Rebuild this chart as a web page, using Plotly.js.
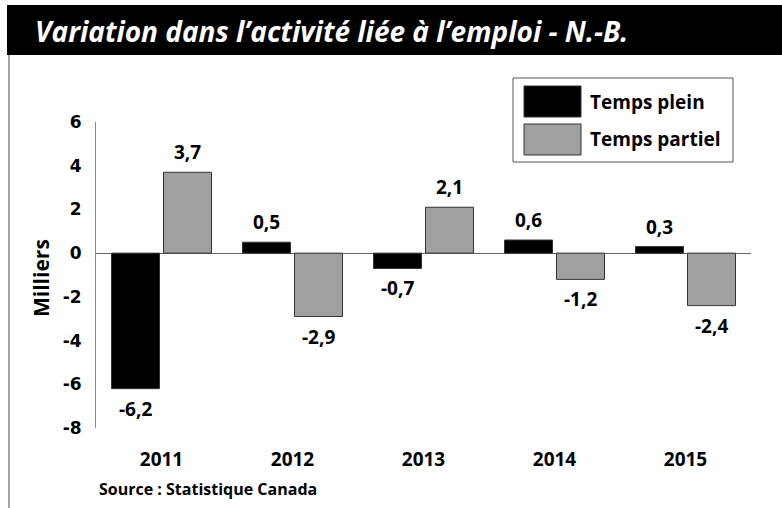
<!DOCTYPE html>
<html>
<head>
<meta charset="utf-8">
<script src="https://cdn.plot.ly/plotly-3.0.1.min.js"></script>
<style>html,body{margin:0;padding:0;background:#fff;}#chart{width:782px;height:508px;}</style>
</head>
<body>
<div id="chart"></div>
<script>
// Data
const years = ["2011", "2012", "2013", "2014", "2015"];
const tempsPlein = [-6.2, 0.5, -0.7, 0.6, 0.3];
const tempsPartiel = [3.7, -2.9, 2.1, -1.2, -2.4];
const seriesNames = ["Temps plein", "Temps partiel"];
const yTicks = [-8, -6, -4, -2, 0, 2, 4, 6];

// layout geometry helpers (pixel -> paper)
const W = 782, H = 508;
const M = {l: 96, r: 31, t: 122, b: 80};
const PW = W - M.l - M.r, PH = H - M.t - M.b;
const px = x => (x - M.l) / PW;
const py = y => (H - M.b - y) / PH;

const labFont = {family: "Open Sans, sans-serif", size: 19, color: "#000", weight: 700};
const fmt = v => v.toFixed(1).replace(".", ",");

const barLine = {color: "#333", width: 1};
const traces = [
  {type: "bar", name: seriesNames[0], x: years, y: tempsPlein,
   marker: {color: "#000000", line: barLine}, hoverinfo: "skip"},
  {type: "bar", name: seriesNames[1], x: years, y: tempsPartiel,
   marker: {color: "#a0a0a0", line: barLine}, hoverinfo: "skip"}
];

const annotations = [];
[tempsPlein, tempsPartiel].forEach((vals, si) => {
  vals.forEach((v, i) => {
    annotations.push({
      x: i, y: v, xref: "x", yref: "y",
      text: fmt(v), showarrow: false,
      xanchor: "center",
      xshift: si === 0 ? -26 : 26,
      yanchor: v >= 0 ? "bottom" : "top",
      yshift: v >= 0 ? 5 : -5,
      font: labFont
    });
  });
});
// axis title
annotations.push({x: px(41), y: py(278), xref: "paper", yref: "paper", xanchor: "center", yanchor: "middle",
  text: "Milliers", textangle: -90, showarrow: false,
  font: {family: "Open Sans, sans-serif", size: 21, color: "#000", weight: 700}});
// source
annotations.push({x: px(97), y: py(489), xref: "paper", yref: "paper", xanchor: "left", yanchor: "middle",
  text: "Source : Statistique Canada", showarrow: false,
  font: {family: "Open Sans, sans-serif", size: 16, color: "#000", weight: 700}});
// title
annotations.push({x: px(33), y: py(31), xref: "paper", yref: "paper", xanchor: "left", yanchor: "middle",
  text: "<b><i>Variation dans l’activité liée à l’emploi - N.-B.</i></b>", showarrow: false,
  font: {family: "Open Sans, sans-serif", size: 28, color: "#fff"}});
// legend text
annotations.push({x: px(588), y: py(102), xref: "paper", yref: "paper", xanchor: "left", yanchor: "middle",
  text: seriesNames[0], showarrow: false, font: {family: "Open Sans, sans-serif", size: 19, color: "#000", weight: 700}});
annotations.push({x: px(588), y: py(139), xref: "paper", yref: "paper", xanchor: "left", yanchor: "middle",
  text: seriesNames[1], showarrow: false, font: {family: "Open Sans, sans-serif", size: 19, color: "#000", weight: 700}});

const shapes = [
  // title bar
  {type: "rect", xref: "paper", yref: "paper", x0: px(7), x1: px(782), y0: py(55), y1: py(5),
   fillcolor: "#000", line: {width: 0}, layer: "below"},
  // left border line
  {type: "line", xref: "paper", yref: "paper", x0: px(9), x1: px(9), y0: py(55), y1: py(508),
   line: {color: "#444", width: 1}},
  // legend box
  {type: "rect", xref: "paper", yref: "paper", x0: px(513), x1: px(733), y0: py(162), y1: py(78),
   fillcolor: "#fff", line: {color: "#555", width: 1}},
  {type: "rect", xref: "paper", yref: "paper", x0: px(524), x1: px(581), y0: py(117), y1: py(86),
   fillcolor: "#000", line: {color: "#333", width: 1}},
  {type: "rect", xref: "paper", yref: "paper", x0: px(524), x1: px(581), y0: py(155), y1: py(124),
   fillcolor: "#a0a0a0", line: {color: "#333", width: 1}}
];

const layout = {
  width: W, height: H,
  margin: M,
  paper_bgcolor: "#fff", plot_bgcolor: "#fff",
  showlegend: false,
  barmode: "group",
  bargap: 0.206,
  bargroupgap: 0.077,
  xaxis: {
    type: "category", range: [-0.5, years.length - 0.5],
    showgrid: false, zeroline: false, showline: false,
    ticks: "outside", ticklen: 14, tickcolor: "rgba(0,0,0,0)",
    tickfont: {family: "Open Sans, sans-serif", size: 19, color: "#000", weight: 700}
  },
  yaxis: {
    range: [-8, 6], tickvals: yTicks, ticktext: yTicks.map(String),
    showgrid: false, zeroline: true, zerolinecolor: "#666", zerolinewidth: 1,
    showline: true, linecolor: "#888", linewidth: 1, ticks: "",
    ticklabelstandoff: 10,
    tickfont: {family: "DejaVu Sans, sans-serif", size: 17, color: "#000", weight: 700}
  },
  annotations: annotations,
  shapes: shapes
};

Plotly.newPlot("chart", traces, layout, {displayModeBar: false, staticPlot: true});
</script>
</body>
</html>
